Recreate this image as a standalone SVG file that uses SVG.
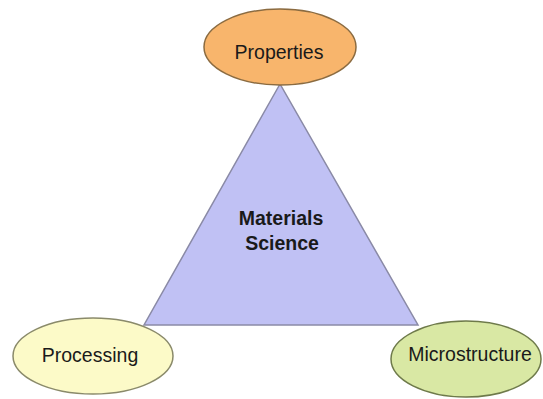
<svg xmlns="http://www.w3.org/2000/svg" width="543" height="399" viewBox="0 0 543 399">
<style>
.lbl{font-family:"Liberation Sans",Arial,sans-serif;font-size:19.5px;fill:#1a1a1a;text-anchor:middle}
.b{font-weight:bold}
.node{stroke-width:1.5}
</style>
<rect width="543" height="399" fill="#ffffff"/>
<g id="connectors">
<polygon id="triangle" points="280,84 144,325 418,325" fill="#c0c1f4" stroke="#8a8aa6" stroke-width="1.5"/>
</g>
<g id="center">
<text class="lbl b" x="281" y="225">Materials</text>
<text class="lbl b" x="282" y="250">Science</text>
</g>
<g id="properties">
<ellipse class="node" cx="280" cy="47" rx="76" ry="38" fill="#f8b56c" stroke="#8b6b40"/>
<text class="lbl" x="279" y="59">Properties</text>
</g>
<g id="processing">
<ellipse class="node" cx="93" cy="356" rx="80" ry="38" fill="#fcfac8" stroke="#8a8a6a"/>
<text class="lbl" x="90" y="362">Processing</text>
</g>
<g id="microstructure">
<ellipse class="node" cx="466" cy="359" rx="75" ry="38" fill="#d9e8a4" stroke="#6e7a4a"/>
<text class="lbl" x="470" y="361">Microstructure</text>
</g>
</svg>
